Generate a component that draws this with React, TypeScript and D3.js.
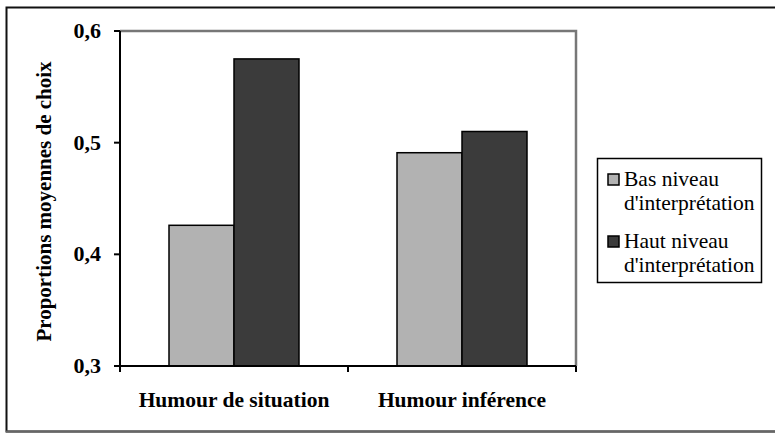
import React, { useEffect, useRef } from 'react';
import * as d3 from 'd3';

const categories = ['Humour de situation', 'Humour inférence'];
const seriesNames = ["Bas niveau d'interprétation", "Haut niveau d'interprétation"];
const lowValues = [0.426, 0.491];
const highValues = [0.575, 0.510];
const yTicks = [0.3, 0.4, 0.5, 0.6];
const legendLines = [['Bas niveau', "d'interprétation"], ['Haut niveau', "d'interprétation"]];
const colors = ['#b2b2b2', '#3b3b3b'];

export default function App() {
  const svgRef = useRef<SVGSVGElement>(null);

  useEffect(() => {
    if (!svgRef.current) return;
    const svg = d3.select(svgRef.current);
    svg.selectAll('*').remove();

    const left = 120, top = 31, right = 576, bottom = 366;
    const font = "'Liberation Serif', 'Times New Roman', serif";

    // outer frame
    svg.append('rect')
      .attr('x', 6.5).attr('y', 7.5)
      .attr('width', 800).attr('height', 424)
      .attr('fill', '#fff')
      .attr('stroke', '#111').attr('stroke-width', 2);
    svg.append('line')
      .attr('x1', 6).attr('x2', 775).attr('y1', 431.5).attr('y2', 431.5)
      .attr('stroke', '#666').attr('stroke-width', 2);

    const x0 = d3.scaleBand().domain(categories).range([left, right]);
    const x1 = d3.scaleBand().domain(seriesNames).range([0, 130]);
    const y = d3.scaleLinear().domain([0.3, 0.6]).range([bottom, top]);

    // plot border (grey)
    svg.append('path')
      .attr('d', `M${left},${top}H${right}V${bottom}`)
      .attr('fill', 'none').attr('stroke', '#777').attr('stroke-width', 2.5);

    const rows = categories.map((c, i) => ({ c, vals: [lowValues[i], highValues[i]] }));
    const g = svg.append('g');
    rows.forEach(r => {
      const cx = x0(r.c)! + x0.bandwidth() / 2 - 65;
      r.vals.forEach((v, j) => {
        g.append('rect')
          .attr('x', cx + x1(seriesNames[j])!)
          .attr('y', y(v))
          .attr('width', x1.bandwidth())
          .attr('height', y(0.3) - y(v))
          .attr('fill', colors[j])
          .attr('stroke', '#000').attr('stroke-width', 1.5);
      });
    });

    // y axis
    svg.append('line')
      .attr('x1', left).attr('x2', left).attr('y1', top).attr('y2', bottom + 5)
      .attr('stroke', '#000').attr('stroke-width', 2);
    yTicks.forEach(t => {
      svg.append('line')
        .attr('x1', left - 6).attr('x2', left).attr('y1', y(t)).attr('y2', y(t))
        .attr('stroke', '#000').attr('stroke-width', 2);
      svg.append('text')
        .attr('x', 101).attr('y', y(t) + 7)
        .attr('text-anchor', 'end')
        .style('font-family', font).style('font-weight', 'bold').style('font-size', '22px')
        .text(d3.format('.1f')(t).replace('.', ','));
    });

    // x axis
    svg.append('line')
      .attr('x1', left - 6).attr('x2', right).attr('y1', bottom).attr('y2', bottom)
      .attr('stroke', '#000').attr('stroke-width', 2);
    [left, left + x0.step(), right].forEach(px => {
      svg.append('line')
        .attr('x1', px).attr('x2', px).attr('y1', bottom).attr('y2', bottom + 6)
        .attr('stroke', '#000').attr('stroke-width', 2);
    });
    categories.forEach(c => {
      svg.append('text')
        .attr('x', x0(c)! + x0.bandwidth() / 2).attr('y', 407)
        .attr('text-anchor', 'middle')
        .style('font-family', font).style('font-weight', 'bold').style('font-size', '21.5px')
        .text(c);
    });

    // y label
    svg.append('text')
      .attr('transform', `translate(51,${(top + bottom) / 2 + 3}) rotate(-90)`)
      .attr('text-anchor', 'middle')
      .style('font-family', font).style('font-weight', 'bold').style('font-size', '21px')
      .text('Proportions moyennes de choix');

    // legend
    svg.append('rect')
      .attr('x', 597.5).attr('y', 158.5).attr('width', 164).attr('height', 124)
      .attr('fill', '#fff').attr('stroke', '#000').attr('stroke-width', 1.5);
    legendLines.forEach((lines, i) => {
      const by = 186 + i * 62;
      svg.append('rect')
        .attr('x', 608).attr('y', by - 12).attr('width', 11).attr('height', 11)
        .attr('fill', colors[i]).attr('stroke', '#000').attr('stroke-width', 1.5);
      lines.forEach((l, k) => {
        svg.append('text')
          .attr('x', 624).attr('y', by + k * 24)
          .style('font-family', font).style('font-size', '21.5px')
          .text(l);
      });
    });
  }, []);

  return <svg ref={svgRef} width={775} height={433} style={{ position: 'absolute', left: 0, top: 0 }} />;
}
